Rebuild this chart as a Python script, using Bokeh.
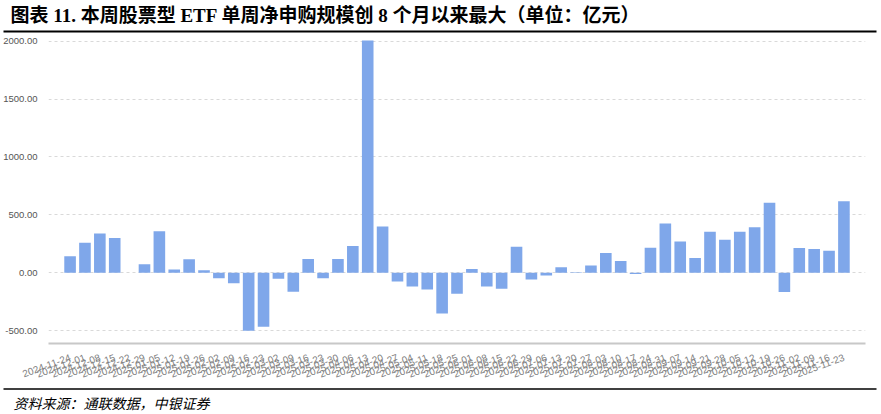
import math
from bokeh.plotting import figure
from bokeh.models import FactorRange, Range1d, FixedTicker, NumeralTickFormatter
from bokeh.layouts import column
from bokeh.embed import file_html
from bokeh.resources import INLINE
from bokeh.core.properties import value

# ---------------- data ----------------
dates = [
    "2024-11-24", "2024-12-01", "2024-12-08", "2024-12-15", "2024-12-22", "2024-12-29",
    "2025-01-05", "2025-01-12", "2025-01-19", "2025-01-26", "2025-02-02", "2025-02-09",
    "2025-02-16", "2025-02-23", "2025-03-02", "2025-03-09", "2025-03-16", "2025-03-23",
    "2025-03-30", "2025-04-06", "2025-04-13", "2025-04-20", "2025-04-27", "2025-05-04",
    "2025-05-11", "2025-05-18", "2025-05-25", "2025-06-01", "2025-06-08", "2025-06-15",
    "2025-06-22", "2025-06-29", "2025-07-06", "2025-07-13", "2025-07-20", "2025-07-27",
    "2025-08-03", "2025-08-10", "2025-08-17", "2025-08-24", "2025-08-31", "2025-09-07",
    "2025-09-14", "2025-09-21", "2025-09-28", "2025-10-05", "2025-10-12", "2025-10-19",
    "2025-10-26", "2025-11-02", "2025-11-09", "2025-11-16", "2025-11-23",
]
flows = [
    143, 260, 340, 300, 0, 74,
    360, 29, 117, 23, -46, -91,
    -500, -466, -51, -163, 120, -46,
    120, 231, 2005, 400, -74, -117,
    -143, -351, -180, 34, -117, -137,
    226, -57, -23, 49, 6, 63,
    171, 103, -11, 217, 426, 271,
    129, 354, 286, 354, 394, 606,
    -166, 214, 206, 191, 617,
]
y_ticks = [-500, 0, 500, 1000, 1500, 2000]
title_text = "图表 11. 本周股票型 ETF 单周净申购规模创 8 个月以来最大（单位：亿元）"
source_text = "资料来源：通联数据，中银证券"

W = 881
BAR = "#7FA7EA"


def strip(height):
    f = figure(width=W, height=height, x_range=Range1d(0, W), y_range=Range1d(height, 0),
               output_backend="svg", toolbar_location=None, min_border=0,
               x_axis_location=None, y_axis_location=None)
    f.grid.visible = False
    f.outline_line_color = None
    return f


# ---------------- title strip ----------------
TH = 34
t = strip(TH)
t.text(x=[10], y=[15], text=[title_text],
       text_font=value("Liberation Serif, Noto Sans CJK SC"),
       text_font_size="19px", text_font_style="bold",
       text_baseline="middle", text_align="left", text_color="#000000")
t.segment(x0=[3], y0=[31], x1=[876], y1=[31], line_color="#000000", line_width=2)

# ---------------- main chart ----------------
MH = 350
p = figure(width=W, height=MH,
           x_range=FactorRange(*dates, range_padding=0.95, range_padding_units="absolute"),
           y_range=Range1d(-610, 2040),
           output_backend="svg", toolbar_location=None,
           min_border_left=48, min_border_right=16, min_border_top=2, min_border_bottom=39)
p.vbar(x=dates, top=flows, width=0.78, fill_color=BAR, line_color=None)
p.outline_line_color = None
p.xgrid.grid_line_color = None
p.ygrid.grid_line_color = "#d9d9d9"
p.ygrid.grid_line_dash = "3 3"
p.ygrid.ticker = FixedTicker(ticks=y_ticks)

p.yaxis.ticker = FixedTicker(ticks=y_ticks)
p.yaxis.formatter = NumeralTickFormatter(format="0.00")
p.yaxis.axis_line_color = None
p.yaxis.major_tick_line_color = None
p.yaxis.minor_tick_line_color = None
p.yaxis.major_label_standoff = 5
p.yaxis.major_label_text_font = "Liberation Sans"
p.yaxis.major_label_text_font_size = "9.5px"
p.yaxis.major_label_text_color = "#555555"

p.xaxis.axis_line_color = "#c8c8c8"
p.xaxis.axis_line_width = 2
p.xaxis.major_tick_line_color = None
p.xaxis.minor_tick_line_color = None
p.xaxis.major_label_orientation = math.radians(20)
p.xaxis.major_label_standoff = 7
p.xaxis.major_label_text_font = "Liberation Sans"
p.xaxis.major_label_text_font_size = "10px"
p.xaxis.major_label_text_color = "#808080"

# ---------------- source strip ----------------
BH = 30
b = strip(BH)
b.segment(x0=[3], y0=[4.5], x1=[876], y1=[4.5], line_color="#000000", line_width=1.5)
b.text(x=[13], y=[18.5], text=[source_text],
       text_font=value("Noto Sans CJK SC"), text_font_size="14px",
       text_font_style="italic", text_baseline="middle", text_align="left",
       text_color="#000000")

for f in (t, p, b):
    try:
        f.frame_align = False
    except Exception:
        pass

layout = column(t, p, b, spacing=0)
open("out.html", "w").write(file_html(layout, INLINE))
